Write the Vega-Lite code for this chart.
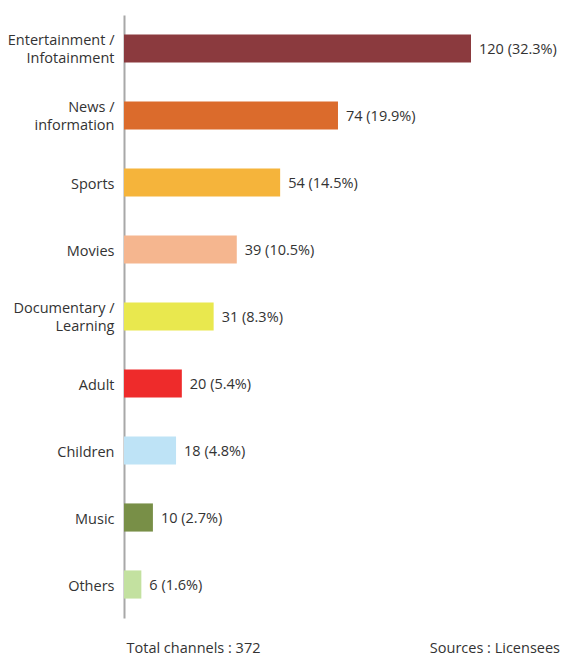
{
  "$schema": "https://vega.github.io/schema/vega-lite/v6.json",
  "autosize": "none",
  "width": 347,
  "height": 603,
  "padding": {"left": 124, "top": 15, "right": 97, "bottom": 37},
  "background": "white",
  "config": {
    "view": {"stroke": null},
    "font": "Open Sans",
    "text": {"font": "Open Sans"}
  },
  "title": {
    "text": "Sources : Licensees",
    "orient": "bottom",
    "anchor": "end",
    "frame": "group",
    "dx": 89,
    "offset": -13,
    "baseline": "top",
    "font": "Open Sans",
    "fontSize": 14.5,
    "fontWeight": "normal",
    "color": "#333333"
  },
  "data": {
    "values": [
      {"cat": "Entertainment / Infotainment", "value": 120, "label": "120 (32.3%)"},
      {"cat": "News / information", "value": 74, "label": "74 (19.9%)"},
      {"cat": "Sports", "value": 54, "label": "54 (14.5%)"},
      {"cat": "Movies", "value": 39, "label": "39 (10.5%)"},
      {"cat": "Documentary / Learning", "value": 31, "label": "31 (8.3%)"},
      {"cat": "Adult", "value": 20, "label": "20 (5.4%)"},
      {"cat": "Children", "value": 18, "label": "18 (4.8%)"},
      {"cat": "Music", "value": 10, "label": "10 (2.7%)"},
      {"cat": "Others", "value": 6, "label": "6 (1.6%)"}
    ]
  },
  "encoding": {
    "y": {
      "field": "cat",
      "type": "nominal",
      "sort": null,
      "scale": {"paddingInner": 0.58, "paddingOuter": 0.29},
      "axis": {
        "title": null,
        "ticks": false,
        "domainColor": "#a8a8a8",
        "domainWidth": 2,
        "labelFont": "Open Sans",
        "labelFontSize": 14.5,
        "labelColor": "#333333",
        "labelPadding": 10,
        "labelLineHeight": 18,
        "labelBaseline": "middle",
        "labelOffset": {"condition": {"test": "indexof(datum.value, ' / ') > 0", "value": -8}, "value": 2},
        "labelExpr": "indexof(datum.value, ' / ') > 0 ? [substring(datum.value, 0, indexof(datum.value, ' / ') + 2), substring(datum.value, indexof(datum.value, ' / ') + 3)] : datum.value"
      }
    },
    "x": {
      "field": "value",
      "type": "quantitative",
      "scale": {"domain": [0, 120], "nice": false},
      "axis": {
        "domain": false,
        "ticks": false,
        "labels": false,
        "grid": false,
        "title": "Total channels : 372",
        "titleAnchor": "start",
        "titleAlign": "left",
        "titleBaseline": "middle",
        "titleX": 2,
        "titleY": 30,
        "titleFont": "Open Sans",
        "titleFontSize": 14.5,
        "titleFontWeight": "normal",
        "titleColor": "#333333"
      }
    }
  },
  "layer": [
    {
      "mark": {"type": "bar", "x": 1},
      "encoding": {
        "color": {
          "field": "cat",
          "type": "nominal",
          "legend": null,
          "scale": {
            "domain": ["Entertainment / Infotainment", "News / information", "Sports", "Movies", "Documentary / Learning", "Adult", "Children", "Music", "Others"],
            "range": ["#8B3A3E", "#DB6B2C", "#F5B43B", "#F5B68F", "#E9E84E", "#EE2B2B", "#BEE3F6", "#788F47", "#C3E1A0"]
          }
        }
      }
    },
    {
      "mark": {"type": "text", "align": "left", "baseline": "middle", "dx": 8, "dy": 1, "font": "Open Sans", "fontSize": 14.5, "color": "#333333"},
      "encoding": {"text": {"field": "label"}}
    }
  ]
}
